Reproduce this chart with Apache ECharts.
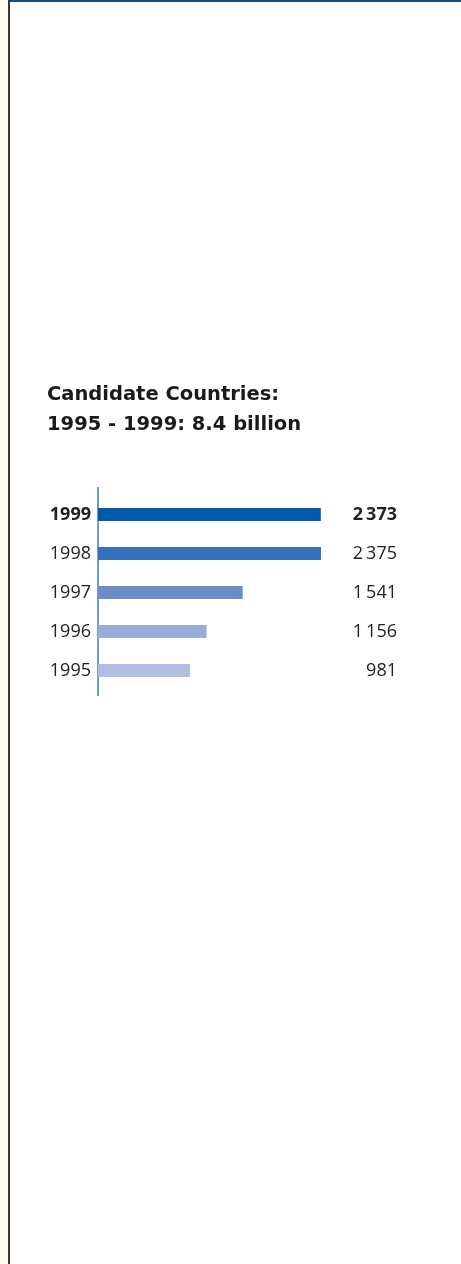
<!DOCTYPE html>
<html>
<head>
<meta charset="utf-8">
<script src="https://cdn.jsdelivr.net/npm/echarts@6/dist/echarts.min.js"></script>
<style>
html,body{margin:0;padding:0;background:#fff;}
#chart{width:461px;height:1264px;}
</style>
</head>
<body>
<div id="chart"></div>
<script>
var years = ['1999', '1998', '1997', '1996', '1995'];
var values = [2373, 2375, 1541, 1156, 981];
var valueLabels = ['2\u2009373', '2\u2009375', '1\u2009541', '1\u2009156', '981'];
var barColors = ['#005aaa', '#3472b9', '#6e8cc8', '#98acd9', '#aebde1'];
var titleLines = ['Candidate Countries:', '1995 - 1999: 8.4 billion'];

var chart = echarts.init(document.getElementById('chart'), null, {renderer: 'canvas'});
var font = 'Open Sans';
var option = {
  animation: false,
  backgroundColor: '#ffffff',
  title: {
    text: titleLines.join('\n'),
    left: 42, top: 375, padding: 5,
    textStyle: {fontFamily: 'DejaVu Sans', fontWeight: 'bold', fontSize: 19.5, lineHeight: 30, color: '#1a1a1a'}
  },
  grid: {left: 98, top: 495, width: 223, height: 195, containLabel: false},
  xAxis: {type: 'value', min: 0, max: 2375, show: false},
  yAxis: [{
    type: 'category', inverse: true, data: years,
    axisLine: {show: false}, axisTick: {show: false},
    axisLabel: {
      margin: 7, fontFamily: font, fontSize: 18, color: '#222',
      formatter: function (v, i) { return i === 0 ? '{b|' + v + '}' : v; },
      rich: {b: {fontFamily: font, fontSize: 18, fontWeight: 'bold', color: '#222'}}
    }
  }, {
    type: 'category', inverse: true, position: 'right', data: valueLabels,
    axisLine: {show: false}, axisTick: {show: false},
    axisLabel: {
      margin: 76, align: 'right', fontFamily: font, fontSize: 18, color: '#222',
      formatter: function (v, i) { return i === 0 ? '{b|' + v + '}' : v; },
      rich: {b: {fontFamily: font, fontSize: 18, fontWeight: 'bold', color: '#222'}}
    }
  }],
  series: [{
    type: 'bar', yAxisIndex: 0, barWidth: 13,
    data: values.map(function (v, i) { return {value: v, itemStyle: {color: barColors[i]}}; })
  }],
  graphic: [
    {type: 'rect', shape: {x: 0, y: 0, width: 8, height: 1264}, style: {fill: '#fffdf0'}, silent: true},
    {type: 'rect', shape: {x: 8, y: 0, width: 2, height: 1264}, style: {fill: '#3a3633'}, silent: true},
    {type: 'rect', shape: {x: 10, y: 0, width: 451, height: 2}, style: {fill: '#1f4a8a'}, silent: true},
    {type: 'line', shape: {x1: 98, y1: 487, x2: 98, y2: 696}, style: {stroke: '#3d80c2', lineWidth: 1.5}, silent: true}
  ]
};
chart.setOption(option);
</script>
</body>
</html>
